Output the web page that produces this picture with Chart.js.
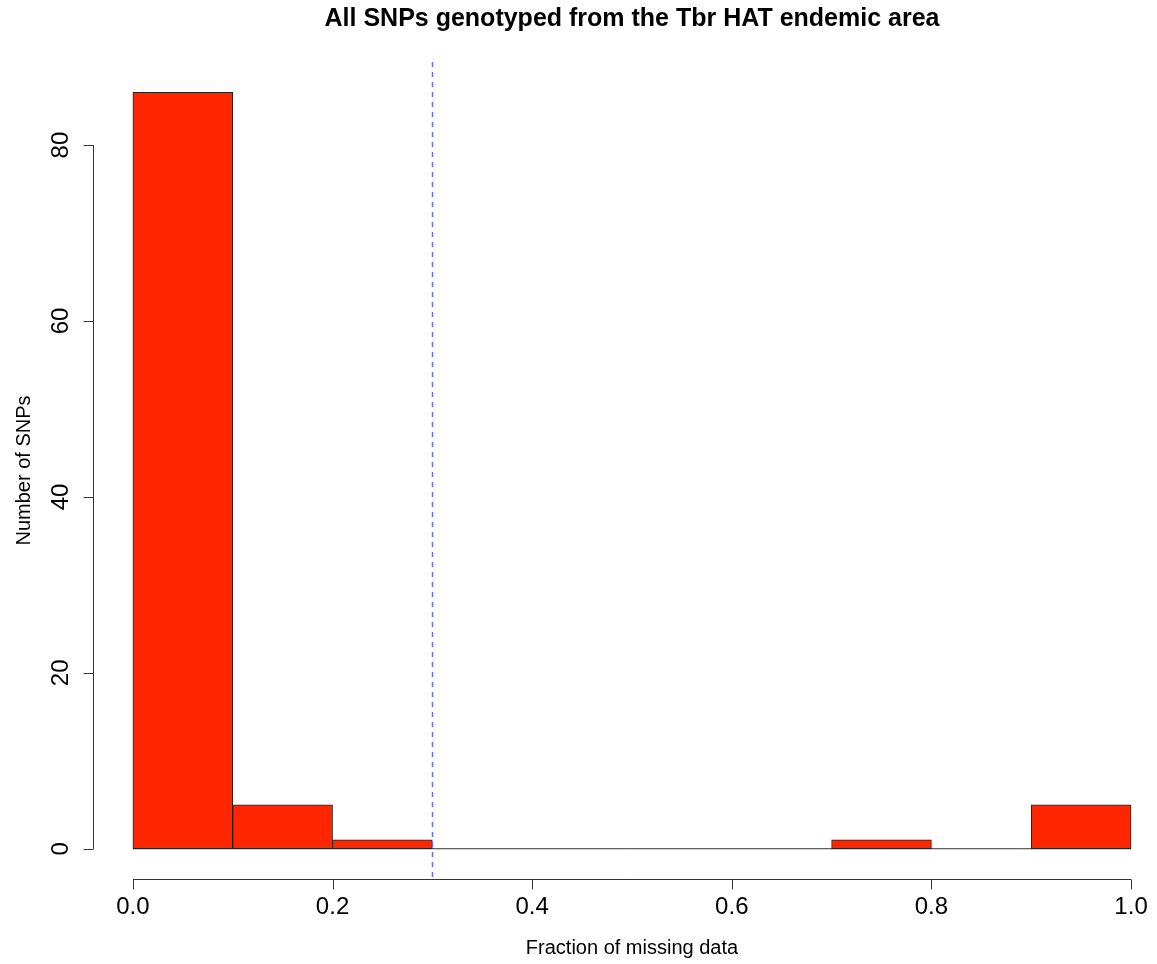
<!DOCTYPE html>
<html>
<head>
<meta charset="utf-8">
<title>All SNPs genotyped from the Tbr HAT endemic area</title>
<script src="https://cdn.jsdelivr.net/npm/chart.js@4/dist/chart.umd.min.js"></script>
<style>
  html, body { margin: 0; padding: 0; background: #fff; }
  canvas { display: block; }
</style>
</head>
<body>
<canvas id="histChart" width="1157" height="964"></canvas>
<script>
// histogram bins (fraction of missing data) and counts
const binEdges = [0.0, 0.1, 0.2, 0.3, 0.4, 0.5, 0.6, 0.7, 0.8, 0.9, 1.0];
const binCounts = [86, 5, 1, 0, 0, 0, 0, 1, 0, 5];
const xTicks = [0.0, 0.2, 0.4, 0.6, 0.8, 1.0];
const yTicks = [0, 20, 40, 60, 80];
const cutoff = 0.3;

const FONT = '"Liberation Sans", Arial, Helvetica, sans-serif';

const barData = binCounts.map((c, i) => ({ x: (binEdges[i] + binEdges[i + 1]) / 2, y: c }));
const baseData = [{ x: binEdges[0], y: 0 }, { x: binEdges[binEdges.length - 1], y: 0 }];

// R-style axes, titles and the cutoff line
const rStyle = {
  id: 'rStyle',
  afterDatasetsDraw(chart) {
    const { ctx, chartArea, scales: { x, y } } = chart;
    ctx.save();

    // dashed cutoff line
    const cx = Math.round(x.getPixelForValue(cutoff)) + 0.5;
    ctx.strokeStyle = '#5b73ff';
    ctx.lineWidth = 1.5;
    ctx.setLineDash([5, 5]);
    ctx.beginPath();
    ctx.moveTo(cx, chartArea.top);
    ctx.lineTo(cx, chartArea.bottom);
    ctx.stroke();
    ctx.setLineDash([]);

    ctx.strokeStyle = '#333';
    ctx.lineWidth = 1;
    ctx.fillStyle = '#000';

    // x axis
    const ay = Math.round(chartArea.bottom) + 0.5;
    ctx.beginPath();
    ctx.moveTo(x.getPixelForValue(xTicks[0]), ay);
    ctx.lineTo(x.getPixelForValue(xTicks[xTicks.length - 1]), ay);
    xTicks.forEach(v => {
      const px = Math.round(x.getPixelForValue(v)) + 0.5;
      ctx.moveTo(px, ay);
      ctx.lineTo(px, ay + 10);
    });
    ctx.stroke();
    ctx.font = '24px ' + FONT;
    ctx.textAlign = 'center';
    ctx.textBaseline = 'middle';
    xTicks.forEach(v => {
      ctx.fillText(v.toFixed(1), x.getPixelForValue(v), ay + 28);
    });

    // y axis
    const ax = Math.round(chartArea.left) + 0.5;
    ctx.beginPath();
    ctx.moveTo(ax, y.getPixelForValue(yTicks[0]));
    ctx.lineTo(ax, y.getPixelForValue(yTicks[yTicks.length - 1]));
    yTicks.forEach(v => {
      const py = Math.round(y.getPixelForValue(v)) + 0.5;
      ctx.moveTo(ax, py);
      ctx.lineTo(ax - 10, py);
    });
    ctx.stroke();
    yTicks.forEach(v => {
      ctx.save();
      ctx.translate(ax - 32, y.getPixelForValue(v));
      ctx.rotate(-Math.PI / 2);
      ctx.fillText(String(v), 0, 0);
      ctx.restore();
    });

    // titles
    const midX = x.getPixelForValue(0.5);
    ctx.font = 'bold 25px ' + FONT;
    ctx.fillText('All SNPs genotyped from the Tbr HAT endemic area', midX, 19);

    ctx.font = '20px ' + FONT;
    ctx.fillText('Fraction of missing data', midX, 948);
    ctx.save();
    ctx.translate(24, (chartArea.top + chartArea.bottom) / 2);
    ctx.rotate(-Math.PI / 2);
    ctx.fillText('Number of SNPs', 0, 0);
    ctx.restore();

    ctx.restore();
  }
};

new Chart(document.getElementById('histChart'), {
  type: 'bar',
  data: {
    datasets: [
      {
        type: 'bar',
        data: barData,
        backgroundColor: '#ff2600',
        borderColor: '#222',
        borderWidth: 1,
        borderSkipped: false,
        barPercentage: 1.0,
        categoryPercentage: 1.0,
        order: 1
      },
      {
        type: 'line',
        data: baseData,
        borderColor: '#333',
        borderWidth: 1,
        pointRadius: 0,
        fill: false,
        order: 2
      }
    ]
  },
  options: {
    responsive: false,
    animation: false,
    layout: { padding: { left: 93, top: 62, right: 0, bottom: 85 } },
    scales: {
      x: { type: 'linear', min: -0.04, max: 1.026, offset: false, display: false },
      y: { type: 'linear', min: -3.44, max: 89.44, display: false }
    },
    plugins: {
      legend: { display: false },
      tooltip: { enabled: false },
      title: { display: false }
    }
  },
  plugins: [rStyle]
});
</script>
</body>
</html>
